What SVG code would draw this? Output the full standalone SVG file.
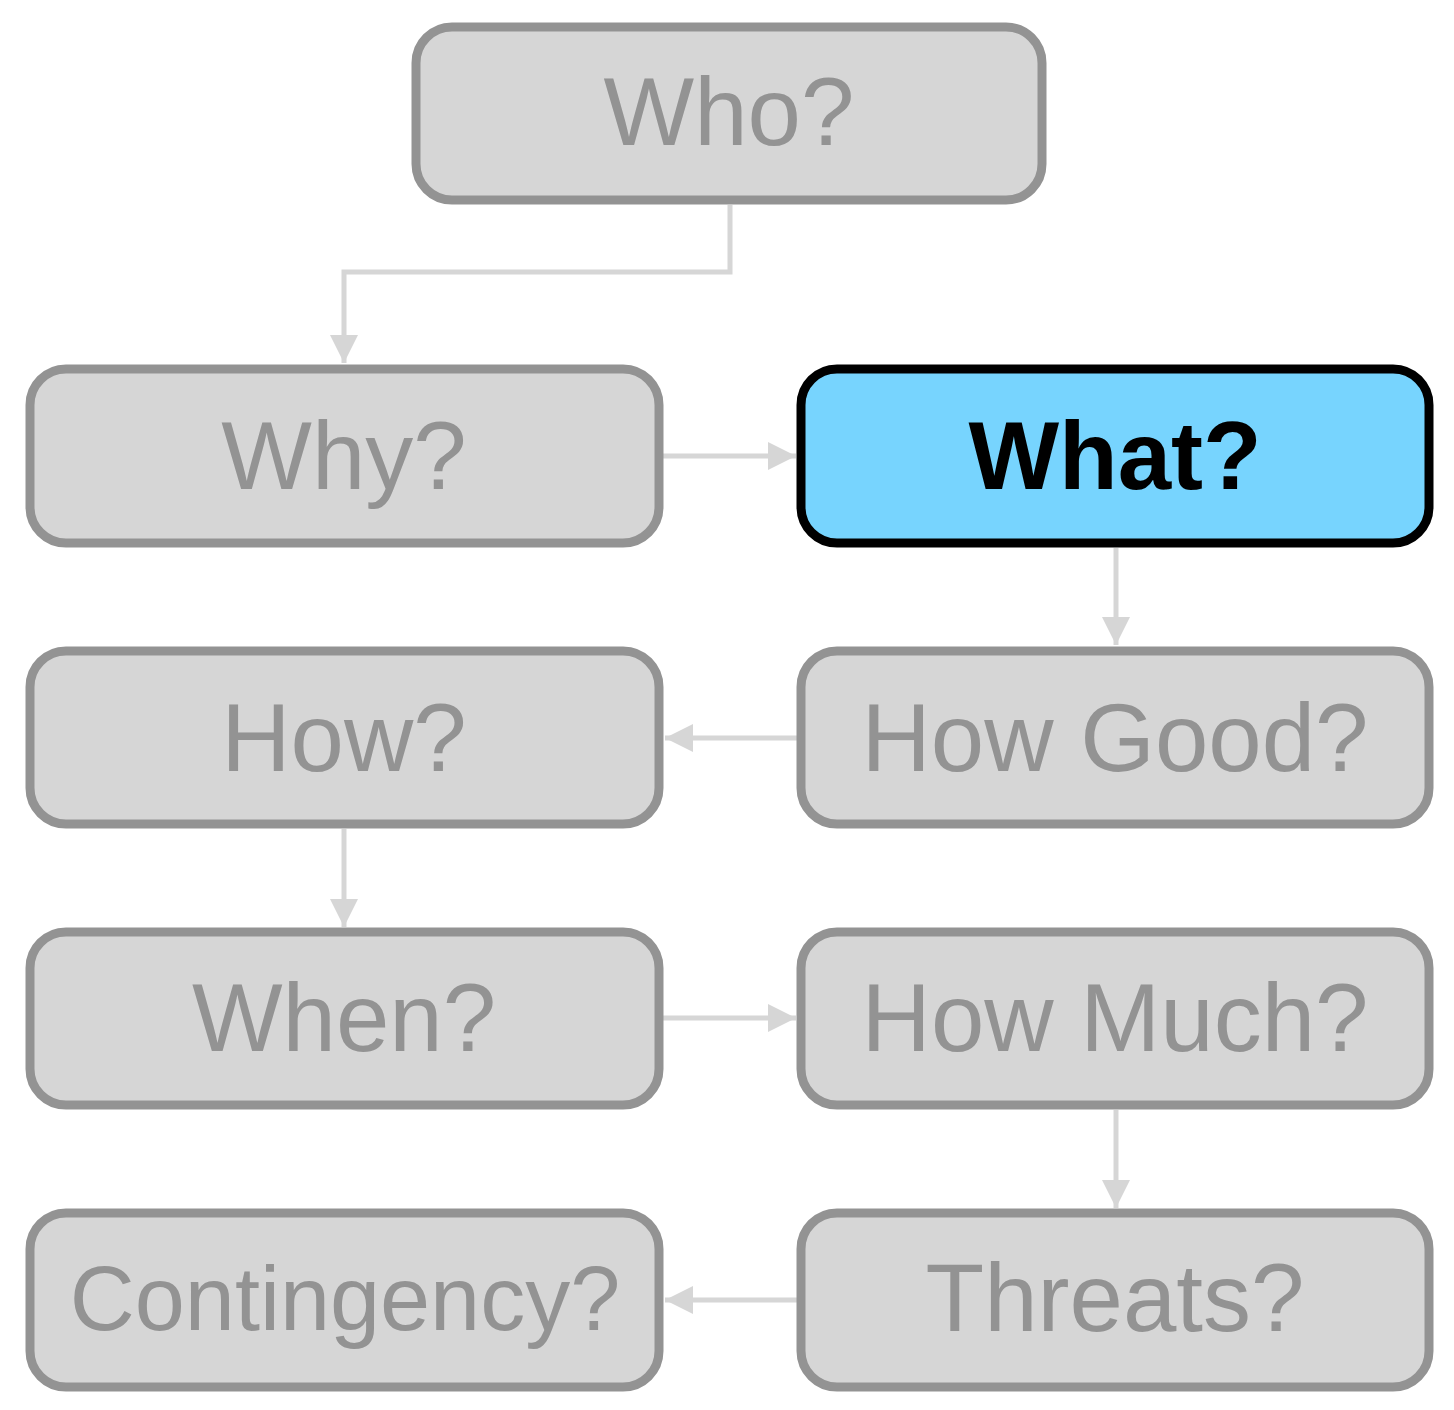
<svg xmlns="http://www.w3.org/2000/svg" width="1454" height="1410" viewBox="0 0 1454 1410">
<defs>
<style>
.box{fill:#d6d6d6;stroke:#939393;stroke-width:9}
.hl{fill:#77d4fe;stroke:#000;stroke-width:9}
.t{font-family:"Liberation Sans",Arial,sans-serif;font-size:96px;fill:#939393;text-anchor:middle}
.tb{font-family:"Liberation Sans",Arial,sans-serif;font-size:96px;font-weight:bold;fill:#000;text-anchor:middle}
.c{fill:none;stroke:#d6d6d6;stroke-width:5}
</style>
<marker id="ah" viewBox="0 0 28 28" refX="28" refY="14" markerWidth="28" markerHeight="28" markerUnits="userSpaceOnUse" orient="auto">
<path d="M0,0 L28,14 L0,28 Z" fill="#d6d6d6"/>
</marker>
</defs>
<rect width="1454" height="1410" fill="#fff"/>
<g id="connectors">
<path class="c" d="M730,205 V272 H344 V363" marker-end="url(#ah)"/>
<path class="c" d="M663,456 H796" marker-end="url(#ah)"/>
<path class="c" d="M1116,548 V645" marker-end="url(#ah)"/>
<path class="c" d="M797,738 H665" marker-end="url(#ah)"/>
<path class="c" d="M344,829 V927" marker-end="url(#ah)"/>
<path class="c" d="M663,1018 H796" marker-end="url(#ah)"/>
<path class="c" d="M1116,1110 V1208" marker-end="url(#ah)"/>
<path class="c" d="M797,1300 H665" marker-end="url(#ah)"/>
</g>
<g id="who"><rect class="box" x="416" y="27" width="626" height="173" rx="36"/><text class="t" x="729" y="145">Who?</text></g>
<g id="why"><rect class="box" x="30" y="369" width="629" height="174" rx="36"/><text class="t" x="344" y="489">Why?</text></g>
<g id="what"><rect class="hl" x="801" y="369" width="628" height="174" rx="36"/><text class="tb" x="1115" y="489">What?</text></g>
<g id="how"><rect class="box" x="30" y="651" width="629" height="173" rx="36"/><text class="t" x="344" y="771">How?</text></g>
<g id="howgood"><rect class="box" x="801" y="651" width="628" height="173" rx="36"/><text class="t" x="1115" y="771">How Good?</text></g>
<g id="when"><rect class="box" x="30" y="932" width="629" height="173" rx="36"/><text class="t" x="344" y="1051">When?</text></g>
<g id="howmuch"><rect class="box" x="801" y="932" width="628" height="173" rx="36"/><text class="t" x="1115" y="1051">How Much?</text></g>
<g id="contingency"><rect class="box" x="30" y="1213" width="629" height="174" rx="36"/><text class="t" x="345" y="1330" style="font-size:90px">Contingency?</text></g>
<g id="threats"><rect class="box" x="801" y="1213" width="628" height="174" rx="36"/><text class="t" x="1115" y="1331">Threats?</text></g>
</svg>
